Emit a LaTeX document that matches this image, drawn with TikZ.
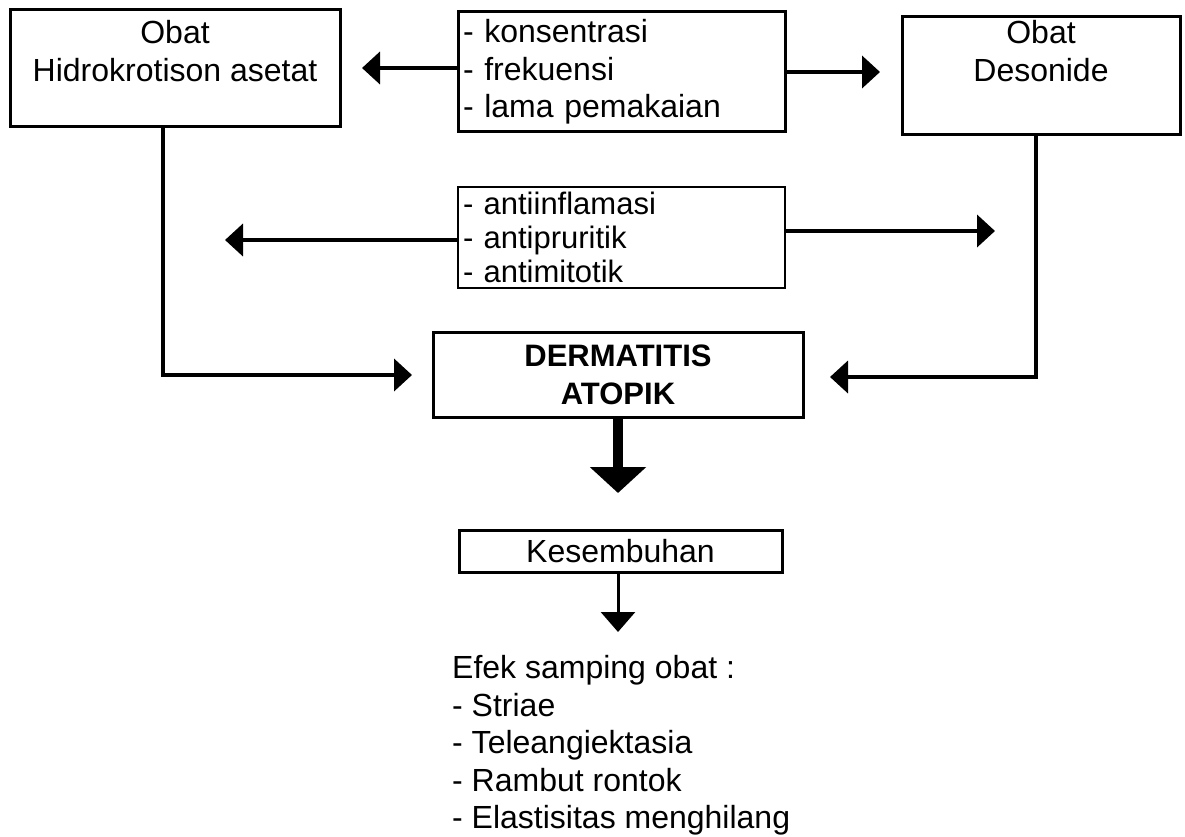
\documentclass[tikz,border=0pt]{standalone}
\usepackage{fontspec}
\setmainfont{Liberation Sans}
\usetikzlibrary{arrows.meta}
\tikzset{
  txt/.style={font=\fontsize{32pt}{37.5pt}\selectfont, inner sep=0pt},
  box/.style={draw, line width=3pt, inner sep=0pt, txt},
  conn/.style={line width=4pt, -{Triangle[width=32pt,length=18pt]}},
}
\begin{document}
\begin{tikzpicture}[x=1pt,y=-1pt]
\useasboundingbox (0,0) rectangle (1185,837);
\fill[white] (0,0) rectangle (1185,837);

% boxes
\node[box, minimum width=330pt, minimum height=117pt] (A) at (175,68.5) {};
\node[txt, align=center] (At) at (175,51) {Obat\\Hidrokrotison asetat};

\node[box, minimum width=278pt, minimum height=118pt] (C) at (1041,76) {};
\node[txt, align=center] (Ct) at (1041,51) {Obat\\Desonide};

\node[box, minimum width=327pt, minimum height=120pt, text width=317pt, inner xsep=5pt, align=left] (B) at (621.5,72) {- konsentrasi\\- frekuensi\\- lama pemakaian};

\node[box, line width=2.5pt, minimum width=327pt, minimum height=101pt, text width=317pt, inner xsep=5pt, align=left, font=\fontsize{31pt}{34pt}\selectfont] (D) at (621.5,237.5) {- antiinflamasi\\- antipruritik\\- antimitotik};

\node[box, minimum width=370pt, minimum height=85pt, font=\fontsize{31pt}{38pt}\selectfont\bfseries, align=center] (E) at (618,374.5) {DERMATITIS\\ATOPIK};

\node[box, minimum width=323pt, minimum height=42pt] (K) at (620.5,551) {Kesembuhan};

\node[txt, align=left, anchor=north west] (F) at (452,655.5) {Efek samping obat :\\- Striae\\- Teleangiektasia\\- Rambut rontok\\- Elastisitas menghilang};

% connectors
\coordinate (tAB) at (362,68);
\draw[conn] (B.west |- tAB) -- (tAB);
\coordinate (tBC) at (880,72);
\draw[conn] (B.east |- tBC) -- (tBC);
\coordinate (tDL) at (225,240);
\draw[conn] (D.west |- tDL) -- (tDL);
\coordinate (tDR) at (995,231);
\draw[conn] (D.east |- tDR) -- (tDR);
\coordinate (lA) at (163,375);
\coordinate (tAE) at (412,375);
\draw[conn] (A.south -| lA) -- (lA) -- (tAE);
\coordinate (lC) at (1036,377);
\coordinate (tCE) at (830,377);
\draw[conn] (C.south -| lC) -- (lC) -- (tCE);
\coordinate (tEK) at (618,493);
\draw[line width=10pt, -{Triangle[width=55pt,length=26pt]}] (E.south) -- (tEK);
\coordinate (tKF) at (618,632);
\draw[line width=3pt, -{Triangle[width=34pt,length=20pt]}] (K.south -| tKF) -- (tKF);
\end{tikzpicture}
\end{document}
